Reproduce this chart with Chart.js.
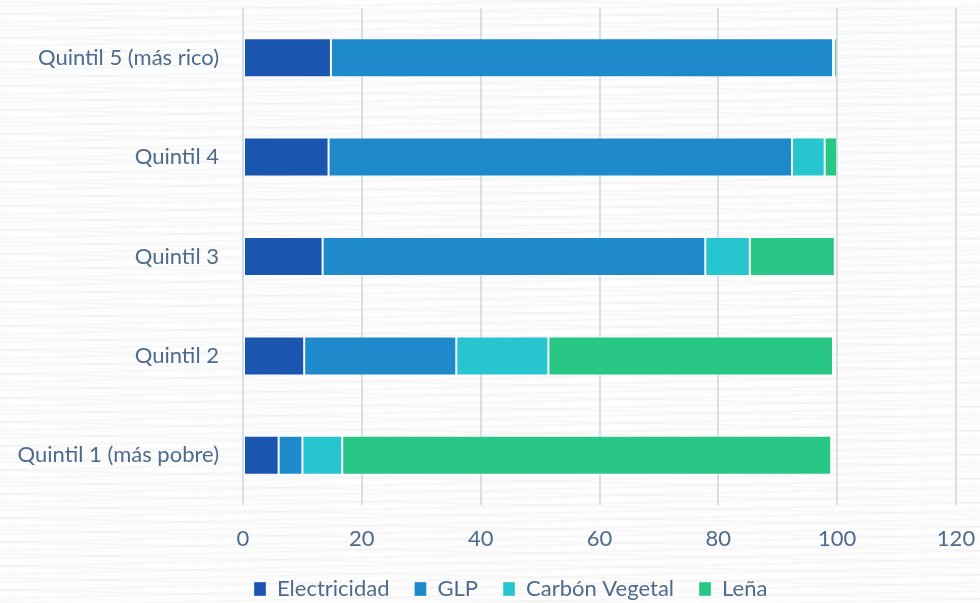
<!DOCTYPE html>
<html>
<head>
<meta charset="utf-8">
<script src="https://cdn.jsdelivr.net/npm/chart.js@4/dist/chart.umd.min.js"></script>
<style>
  html, body { margin: 0; padding: 0; }
  body {
    width: 980px; height: 603px; overflow: hidden;
    background-color: #fdfdfd;
    background-image:
      repeating-linear-gradient(178.6deg, rgba(0,0,0,0.0) 0px, rgba(0,0,0,0.0) 5px, rgba(120,120,120,0.06) 6px, rgba(0,0,0,0.0) 8px),
      repeating-linear-gradient(181.2deg, rgba(0,0,0,0.0) 0px, rgba(0,0,0,0.0) 9px, rgba(120,120,120,0.05) 10px, rgba(0,0,0,0.0) 12px);
  }
  #wrap { position: relative; width: 980px; height: 603px; }
</style>
</head>
<body>
<div id="wrap"><canvas id="chart"></canvas></div>
<script>
// Hogares por fuente de energía para cocinar, según quintil de ingreso (%)
const quintiles = ['Quintil 5 (más rico)', 'Quintil 4', 'Quintil 3', 'Quintil 2', 'Quintil 1 (más pobre)'];
const electricidad = [14.8, 14.4, 13.4, 10.3, 6.0];
const glp          = [84.5, 78.0, 64.4, 25.6, 4.0];
const carbonVeg    = [0.2, 5.5, 7.5, 15.5, 6.7];
const lena         = [0.5, 2.1, 14.3, 47.9, 82.3];
const seriesNames  = ['Electricidad', 'GLP', 'Carbón Vegetal', 'Leña'];
const xTicks       = [0, 20, 40, 60, 80, 100, 120];

const colors = ['#1a56b0', '#1e89cb', '#27c6cf', '#28c786'];
const textColor = '#4d6b8f';
const fontFamily = 'Lato, "Open Sans", sans-serif';
const fontSize = 22;

// Legend strip: compact height at the bottom edge, first swatch starting at x = 254
const legendPlugin = Chart.registry.getPlugin('legend');
if (legendPlugin && legendPlugin._element) {
  const LegendEl = legendPlugin._element;
  const baseFit = LegendEl.prototype.fit;
  LegendEl.prototype.fit = function () {
    baseFit.call(this);
    if (this.isHorizontal()) this.height = 50;
  };
  const baseDraw = LegendEl.prototype.draw;
  LegendEl.prototype.draw = function () {
    const boxes = this.legendHitBoxes;
    const dx = boxes && boxes.length ? 254 - boxes[0].left : 0;
    this.ctx.save();
    this.ctx.translate(dx, 0);
    baseDraw.call(this);
    this.ctx.restore();
  };
}

const seriesValues = [electricidad, glp, carbonVeg, lena];
const datasets = seriesNames.map((name, i) => ({
  label: name,
  data: seriesValues[i],
  backgroundColor: colors[i],
  borderColor: 'rgba(255,255,255,0.35)',
  borderWidth: 1,
  borderSkipped: false,
  categoryPercentage: 1.0,
  barPercentage: 0.392
}));

new Chart(document.getElementById('chart'), {
  type: 'bar',
  data: { labels: quintiles, datasets },
  options: {
    indexAxis: 'y',
    responsive: true,
    maintainAspectRatio: false,
    animation: false,
    layout: { padding: { top: 8, right: 24, bottom: 0, left: 0 } },
    scales: {
      x: {
        stacked: true,
        min: xTicks[0],
        max: xTicks[xTicks.length - 1],
        afterBuildTicks: (scale) => { scale.ticks = xTicks.map(v => ({ value: v })); },
        grid: { color: '#d6deea', lineWidth: 2, drawTicks: false },
        border: { display: false },
        ticks: { color: textColor, padding: 21, font: { family: fontFamily, size: fontSize } },
        afterFit: (scale) => { scale.height = 48; scale.paddingLeft = 0; scale.paddingRight = 0; }
      },
      y: {
        stacked: true,
        grid: { display: false, drawTicks: false },
        border: { display: false },
        ticks: { color: textColor, padding: 24, font: { family: fontFamily, size: fontSize } },
        afterFit: (scale) => { scale.width = 243; scale.paddingTop = 0; scale.paddingBottom = 0; }
      }
    },
    plugins: {
      legend: {
        position: 'bottom',
        labels: {
          color: textColor,
          boxWidth: 12,
          boxHeight: 14,
          padding: 25,
          font: { family: fontFamily, size: fontSize }
        }
      },
      tooltip: { enabled: false }
    }
  }
});
</script>
</body>
</html>
